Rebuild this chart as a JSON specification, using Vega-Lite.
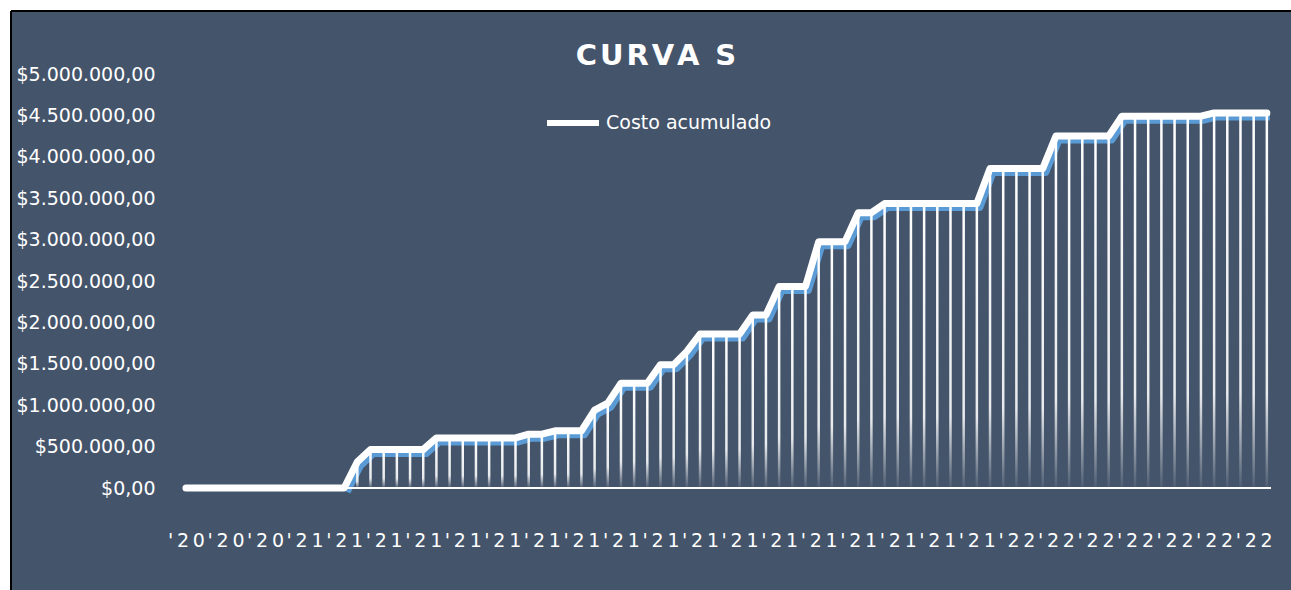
{
  "$schema": "https://vega.github.io/schema/vega-lite/v6.json",
  "width": 1280,
  "height": 579,
  "autosize": {"type": "none"},
  "padding": {"left": 11, "top": 11, "right": 0, "bottom": 0},
  "background": "#FFFFFF",
  "title": {
    "text": "C\u200aU\u200aR\u200aV\u200aA\u200a \u200aS",
    "color": "#FFFFFF",
    "font": "DejaVu Sans",
    "fontSize": 29,
    "fontWeight": "bold",
    "anchor": "middle",
    "frame": "group",
    "baseline": "middle",
    "offset": -74,
    "dx": 5
  },
  "data": {
    "values": [
      {"i": 0, "valor": 0}, {"i": 1, "valor": 0}, {"i": 2, "valor": 0}, {"i": 3, "valor": 0},
      {"i": 4, "valor": 0}, {"i": 5, "valor": 0}, {"i": 6, "valor": 0}, {"i": 7, "valor": 0},
      {"i": 8, "valor": 0}, {"i": 9, "valor": 0}, {"i": 10, "valor": 0}, {"i": 11, "valor": 0},
      {"i": 12, "valor": 0}, {"i": 13, "valor": 315000}, {"i": 14, "valor": 465000}, {"i": 15, "valor": 465000},
      {"i": 16, "valor": 465000}, {"i": 17, "valor": 465000}, {"i": 18, "valor": 465000}, {"i": 19, "valor": 605000},
      {"i": 20, "valor": 605000}, {"i": 21, "valor": 605000}, {"i": 22, "valor": 605000}, {"i": 23, "valor": 605000},
      {"i": 24, "valor": 605000}, {"i": 25, "valor": 605000}, {"i": 26, "valor": 650000}, {"i": 27, "valor": 650000},
      {"i": 28, "valor": 690000}, {"i": 29, "valor": 690000}, {"i": 30, "valor": 690000}, {"i": 31, "valor": 940000},
      {"i": 32, "valor": 1025000}, {"i": 33, "valor": 1265000}, {"i": 34, "valor": 1265000}, {"i": 35, "valor": 1265000},
      {"i": 36, "valor": 1490000}, {"i": 37, "valor": 1490000}, {"i": 38, "valor": 1650000}, {"i": 39, "valor": 1860000},
      {"i": 40, "valor": 1860000}, {"i": 41, "valor": 1860000}, {"i": 42, "valor": 1860000}, {"i": 43, "valor": 2090000},
      {"i": 44, "valor": 2090000}, {"i": 45, "valor": 2435000}, {"i": 46, "valor": 2435000}, {"i": 47, "valor": 2435000},
      {"i": 48, "valor": 2975000}, {"i": 49, "valor": 2975000}, {"i": 50, "valor": 2975000}, {"i": 51, "valor": 3325000},
      {"i": 52, "valor": 3325000}, {"i": 53, "valor": 3435000}, {"i": 54, "valor": 3435000}, {"i": 55, "valor": 3435000},
      {"i": 56, "valor": 3435000}, {"i": 57, "valor": 3435000}, {"i": 58, "valor": 3435000}, {"i": 59, "valor": 3435000},
      {"i": 60, "valor": 3435000}, {"i": 61, "valor": 3860000}, {"i": 62, "valor": 3860000}, {"i": 63, "valor": 3860000},
      {"i": 64, "valor": 3860000}, {"i": 65, "valor": 3860000}, {"i": 66, "valor": 4250000}, {"i": 67, "valor": 4250000},
      {"i": 68, "valor": 4250000}, {"i": 69, "valor": 4250000}, {"i": 70, "valor": 4250000}, {"i": 71, "valor": 4490000},
      {"i": 72, "valor": 4490000}, {"i": 73, "valor": 4490000}, {"i": 74, "valor": 4490000}, {"i": 75, "valor": 4490000},
      {"i": 76, "valor": 4490000}, {"i": 77, "valor": 4490000}, {"i": 78, "valor": 4530000}, {"i": 79, "valor": 4530000},
      {"i": 80, "valor": 4530000}, {"i": 81, "valor": 4530000}, {"i": 82, "valor": 4530000}
    ]
  },
  "encoding": {
    "x": {
      "field": "i",
      "type": "quantitative",
      "scale": {"domain": [-12.894, 83.453], "nice": false, "zero": false},
      "axis": {
        "title": null,
        "values": [0, 3, 6, 9, 12, 15, 18, 21, 24, 27, 30, 33, 36, 39, 42, 45, 48, 51, 54, 57, 60, 63, 66, 69, 72, 75, 78, 81],
        "labelExpr": "datum.value < 9 ? \"'\u20092\u20090\" : (datum.value < 63 ? \"'\u20092\u20091\" : \"'\u20092\u20092\")",
        "labelPadding": -50,
        "labelBaseline": "middle",
        "labelOverlap": false,
        "labelFlush": false,
        "labelBound": false
      }
    },
    "y": {
      "field": "valor",
      "type": "quantitative",
      "scale": {"domain": [-1231884, 5760870], "nice": false, "zero": false},
      "axis": {
        "title": null,
        "values": [0, 500000, 1000000, 1500000, 2000000, 2500000, 3000000, 3500000, 4000000, 4500000, 5000000],
        "format": "$,.2f",
        "labelAlign": "right",
        "labelBaseline": "middle",
        "labelPadding": -144,
        "labelOverlap": false,
        "labelFlush": false,
        "labelBound": false
      }
    }
  },
  "layer": [
    {
      "transform": [{"filter": "datum.i >= 12"}],
      "mark": {"type": "line", "color": "#5B9BD5", "strokeWidth": 7, "xOffset": 3, "yOffset": 4, "strokeCap": "butt", "strokeJoin": "round"}
    },
    {
      "mark": {"type": "rule", "color": "#FFFFFF", "strokeWidth": 2},
      "encoding": {
        "x": {"datum": -0.2},
        "x2": {"datum": 82.3},
        "y": {"datum": 0}
      }
    },
    {
      "mark": {
        "type": "bar",
        "size": 2.5,
        "color": {
          "gradient": "linear",
          "x1": 0, "y1": 0, "x2": 0, "y2": 1,
          "stops": [
            {"offset": 0, "color": "rgba(255,255,255,1)"},
            {"offset": 0.75, "color": "rgba(255,255,255,0.88)"},
            {"offset": 1, "color": "rgba(255,255,255,0.05)"}
          ]
        }
      },
      "encoding": {
        "y2": {"datum": 0}
      }
    },
    {
      "mark": {"type": "line", "strokeWidth": 7, "strokeCap": "round", "strokeJoin": "round"},
      "encoding": {
        "color": {
          "datum": "Costo acumulado",
          "scale": {"range": ["#FFFFFF"]},
          "legend": {
            "title": null,
            "orient": "none",
            "legendX": 533,
            "legendY": 83,
            "symbolType": "stroke",
            "symbolSize": 2704,
            "symbolStrokeWidth": 6,
            "labelOffset": 4,
            "labelLimit": 0,
            "padding": 0
          }
        }
      }
    }
  ],
  "config": {
    "font": "DejaVu Sans",
    "locale": {"number": {"decimal": ",", "thousands": ".", "grouping": [3], "currency": ["$", ""]}},
    "view": {"fill": "#44546A", "stroke": "#000000", "strokeWidth": 2, "strokeDash": [1280, 1859, 579, 0]},
    "axis": {
      "labelFont": "DejaVu Sans",
      "labelFontSize": 19,
      "labelColor": "#FFFFFF",
      "domain": false,
      "ticks": false,
      "tickSize": 0,
      "grid": false
    },
    "legend": {
      "labelFont": "DejaVu Sans",
      "labelFontSize": 19,
      "labelColor": "#FFFFFF"
    }
  }
}
